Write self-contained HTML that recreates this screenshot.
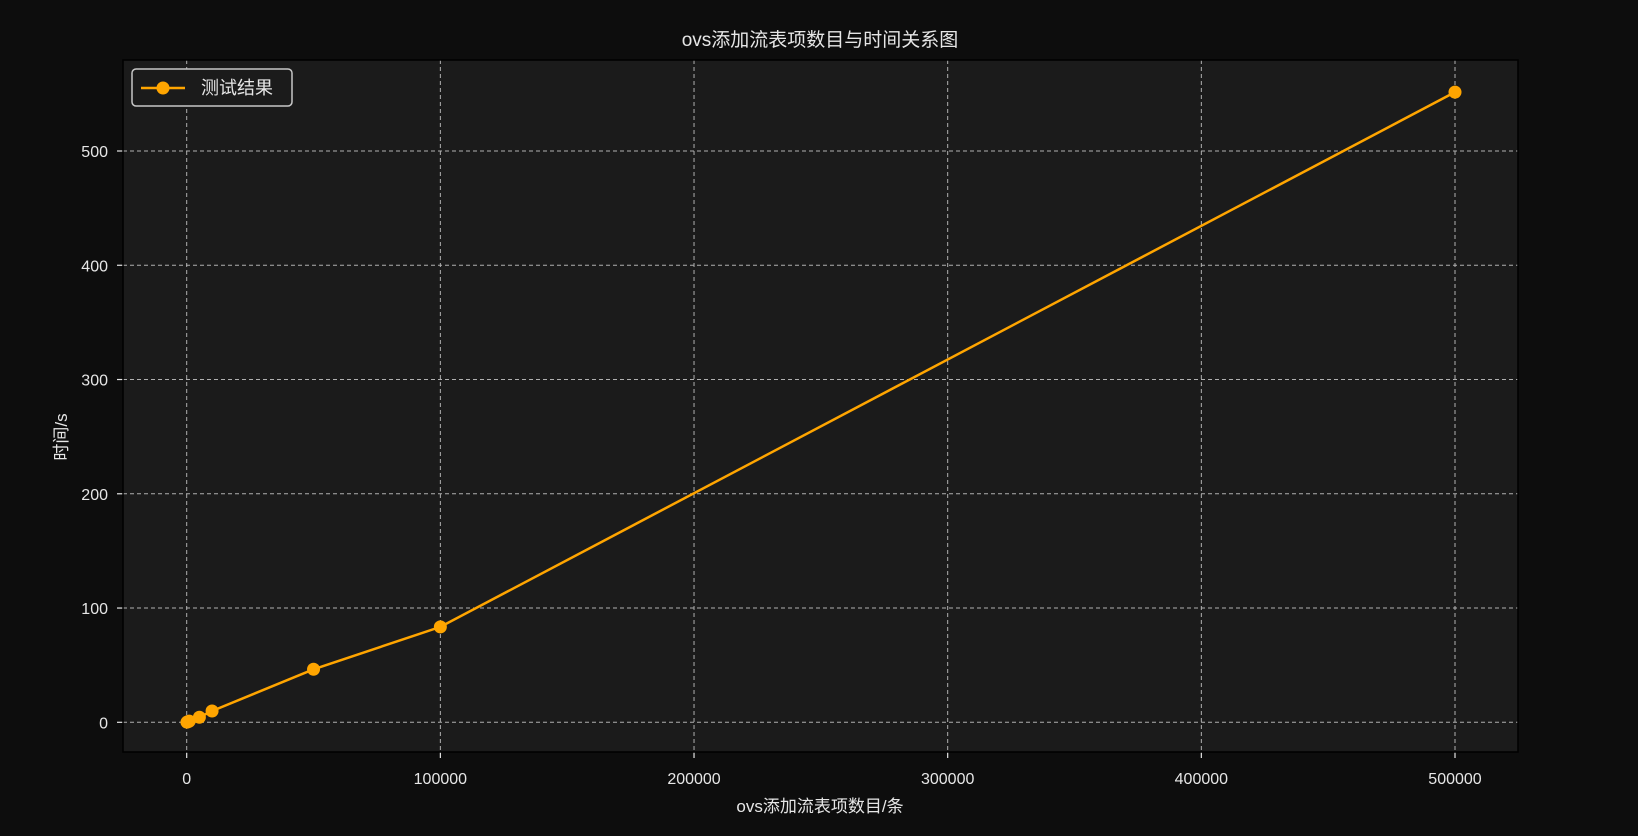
<!DOCTYPE html>
<html><head><meta charset="utf-8"><style>
html,body{margin:0;padding:0;background:#0d0d0d;}
svg{display:block;font-family:"Liberation Sans","Noto Sans CJK SC",sans-serif;}
</style></head><body>
<svg id="chart" width="1638" height="836">
<rect width="1638" height="836" fill="#0d0d0d"/>
<rect x="123" y="60" width="1395" height="692" fill="#1b1b1b"/>
<g id="grid"></g><g id="ticks"></g><g id="series"></g>
<rect x="123" y="60" width="1395" height="692" fill="none" stroke="#000" stroke-width="1.5"/>
<text x="820" y="46" fill="#e6e6e6" font-size="19" text-anchor="middle">ovs添加流表项数目与时间关系图</text>
<text x="820" y="812" fill="#e6e6e6" font-size="17" text-anchor="middle">ovs添加流表项数目/条</text>
<text x="0" y="0" transform="translate(67,437) rotate(-90)" fill="#e6e6e6" font-size="17" text-anchor="middle">时间/s</text>
<g>
<rect x="132" y="69" width="160" height="37" rx="4" fill="#1b1b1b" stroke="#c8c8c8" stroke-width="1.5"/>
<line x1="141" y1="88" x2="185" y2="88" stroke="#ffa500" stroke-width="2.5"/>
<circle cx="163" cy="88" r="6.5" fill="#ffa500"/>
<text x="201" y="94" fill="#e6e6e6" font-size="18">测试结果</text>
</g>
</svg>
<script>
const xValues=[100,500,1000,5000,10000,50000,100000,500000];
const yValues=[0.1,0.5,1.0,4.4,9.9,46.4,83.5,551.5];
const xTicks=[0,100000,200000,300000,400000,500000];
const yTicks=[0,100,200,300,400,500];
const NS='http://www.w3.org/2000/svg';
function sx(v){return 186.7+v*(1455-186.7)/500000;}
function sy(v){return 722.3-v*(722.3-151)/500;}
const grid=document.getElementById('grid'),ticks=document.getElementById('ticks'),series=document.getElementById('series');
function mk(tag,attrs,parent){const e=document.createElementNS(NS,tag);for(const k in attrs)e.setAttribute(k,attrs[k]);parent.appendChild(e);return e;}
xTicks.forEach(t=>{const x=sx(t);
 const g=mk('line',{x1:x,x2:x,y1:60,y2:752,stroke:'#b0b0b0','stroke-width':1,'stroke-dasharray':'4,3'},grid);
 
 
 const tk=mk('line',{x1:x,x2:x,y1:752,y2:758,stroke:'#e6e6e6','stroke-width':1.2},ticks);
 
 
 const lb=mk('text',{x:x,y:784,fill:'#e6e6e6','font-size':16,'text-anchor':'middle'},ticks);lb.textContent=t;
 
 
});
yTicks.forEach(t=>{const y=sy(t);
 const g=mk('line',{x1:123,x2:1518,y1:y,y2:y,stroke:'#b0b0b0','stroke-width':1,'stroke-dasharray':'4,3'},grid);
 
 
 const tk=mk('line',{x1:117,x2:123,y1:y,y2:y,stroke:'#e6e6e6','stroke-width':1.2},ticks);
 
 
 const lb=mk('text',{x:108,y:y+6,fill:'#e6e6e6','font-size':16,'text-anchor':'end'},ticks);lb.textContent=t;
 
 
});
const pts=xValues.map((v,i)=>sx(v)+','+sy(yValues[i])).join(' ');
const pl=mk('polyline',{points:pts,fill:'none',stroke:'#ffa500','stroke-width':2.5},series);


xValues.forEach((v,i)=>{const c=mk('circle',{cx:sx(v),cy:sy(yValues[i]),r:6.5,fill:'#ffa500'},series);
 
 
});
</script>
</body></html>
